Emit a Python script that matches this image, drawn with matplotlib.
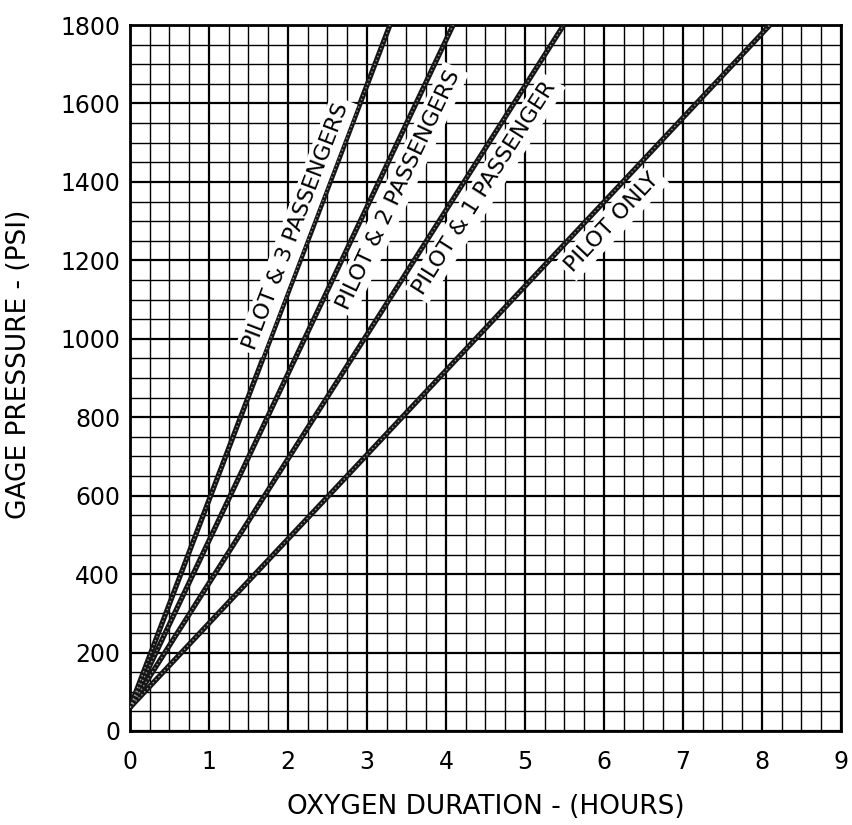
import numpy as np
import matplotlib
matplotlib.use('Agg')
import matplotlib.pyplot as plt
from matplotlib.ticker import MultipleLocator

# chart data: each line starts at the same pressure at t=0 and reaches 1800 psi
labels = ['PILOT & 3 PASSENGERS', 'PILOT & 2 PASSENGERS', 'PILOT & 1 PASSENGER', 'PILOT ONLY']
start_psi = [60, 60, 60, 60]
hours_at_1800 = [3.29, 4.09, 5.49, 8.10]
end_psi = [1800, 1800, 1800, 1800]

x_ticks = [0, 1, 2, 3, 4, 5, 6, 7, 8, 9]
y_ticks = [0, 200, 400, 600, 800, 1000, 1200, 1400, 1600, 1800]

# label placement along each line (psi at foot of label, perpendicular offset in px)
label_at_psi = [1273, 1403, 1413, 1332]
label_offset_px = [-16, 21, 21, 20]

fig = plt.figure(figsize=(8.53, 8.25), dpi=100)
ax = fig.add_axes([130 / 853, (825 - 731) / 825, 711 / 853, 706 / 825])
ax.set_xlim(0, 9)
ax.set_ylim(0, 1800)

# graph paper grid
ax.xaxis.set_major_locator(MultipleLocator(1))
ax.xaxis.set_minor_locator(MultipleLocator(0.25))
ax.yaxis.set_major_locator(MultipleLocator(200))
ax.yaxis.set_minor_locator(MultipleLocator(50))
ax.grid(which='minor', color='black', lw=1.0, zorder=0)
ax.grid(which='major', color='black', lw=1.6, zorder=0)
ax.set_axisbelow(True)
for s in ax.spines.values():
    s.set_linewidth(2.0)
    s.set_color('black')

ax.set_xticks(x_ticks)
ax.set_yticks(y_ticks)
ax.set_xticklabels([str(v) for v in x_ticks])
ax.set_yticklabels([str(v) for v in y_ticks])
ax.tick_params(which='both', length=0)
ax.tick_params(axis='x', pad=14, labelsize=17)
ax.tick_params(axis='y', pad=7, labelsize=17)

ax.set_xlabel('OXYGEN DURATION - (HOURS)', fontsize=19, labelpad=14)
ax.set_ylabel('GAGE PRESSURE - (PSI)', fontsize=19)
ax.yaxis.set_label_coords(-0.138, 0.52)

for lab, p0, t1, p1, py, off in zip(labels, start_psi, hours_at_1800, end_psi,
                                     label_at_psi, label_offset_px):
    xs = np.array([0, t1])
    ys = np.array([p0, p1])
    ax.plot(xs, ys, color='#151515', lw=3.8, solid_capstyle='butt', zorder=3)
    ax.plot(xs, ys, color='#9a9a9a', lw=1.0, ls=(0, (1, 2)), zorder=4)

    # angle of the line on screen
    d0 = ax.transData.transform((0, p0))
    d1 = ax.transData.transform((t1, p1))
    ang = np.arctan2(d1[1] - d0[1], d1[0] - d0[0])
    # foot point on the line, then shift perpendicular (right-down is positive)
    tx = t1 * (py - p0) / (p1 - p0)
    foot = ax.transData.transform((tx, py))
    pos = foot + off * np.array([np.sin(ang), -np.cos(ang)])
    lx, ly = ax.transData.inverted().transform(pos)
    ax.text(lx, ly, lab, rotation=np.degrees(ang), rotation_mode='anchor',
            ha='center', va='center', fontsize=16, zorder=5,
            bbox=dict(facecolor='white', edgecolor='none', pad=3))

fig.savefig('out.png', dpi=100)
